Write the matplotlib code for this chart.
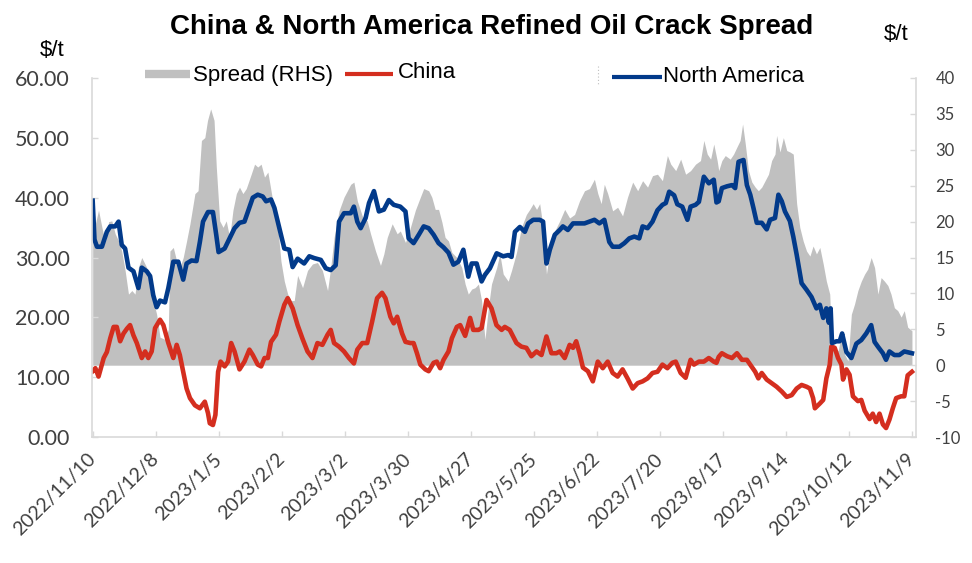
import matplotlib.pyplot as plt
import matplotlib.transforms as mtransforms
from matplotlib.lines import Line2D
import numpy as np
import pandas as pd

# data: (days since 2022/11/10, value)
start = pd.Timestamp('2022-11-10')

north_america = [
    (0, 39.5), (0.8, 33.0), (1.9, 31.8), (4.1, 31.8), (6.3, 34.3), (7.8, 35.2), (10.0, 35.2),
    (11.5, 36.0), (12.9, 32.1), (14.4, 31.5), (15.9, 28.3), (18.1, 27.7), (20.3, 24.9), (21.8, 28.3),
    (24.0, 27.7), (25.5, 26.9), (26.9, 23.7), (28.4, 21.7), (29.9, 22.8), (32.1, 22.5), (33.6, 24.9),
    (35.8, 29.3), (38.0, 29.3), (40.2, 26.3), (41.7, 29.0), (43.9, 29.5), (46.1, 29.4), (47.6, 32.6),
    (49.0, 36.0), (51.2, 37.6), (53.4, 37.6), (54.9, 33.7), (55.9, 30.9), (58.6, 31.5), (60.8, 33.2),
    (63.0, 34.9), (65.2, 35.8), (67.4, 36.0), (68.9, 37.6), (71.1, 40.0), (73.3, 40.5), (75.5, 40.2),
    (77.0, 39.4), (79.2, 39.7), (80.7, 38.3), (82.9, 34.9), (85.1, 31.5), (87.3, 31.3), (88.8, 28.4),
    (91.0, 29.8), (93.9, 29.0), (96.2, 30.2), (98.4, 29.9), (101.3, 29.6), (103.5, 28.2), (105.7, 27.9),
    (107.9, 28.7), (109.4, 36.0), (111.6, 37.4), (114.6, 37.4), (116.0, 38.5), (117.5, 36.0),
    (119.0, 34.9), (121.2, 36.6), (122.7, 39.1), (124.9, 41.1), (127.1, 37.7), (129.3, 38.0),
    (131.5, 39.6), (133.7, 38.8), (136.6, 38.5), (138.9, 37.7), (140.3, 33.2), (142.5, 32.4),
    (144.8, 33.8), (147.0, 35.2), (149.2, 34.9), (151.4, 33.8), (153.6, 32.4), (155.8, 31.7),
    (158.0, 30.8), (160.2, 28.8), (162.4, 29.3), (164.6, 31.3), (166.8, 26.8), (168.3, 29.0),
    (170.5, 29.0), (172.7, 26.0), (174.2, 27.1), (176.4, 28.2), (179.4, 30.7), (182.3, 30.2),
    (184.5, 30.4), (186.0, 30.1), (187.5, 34.3), (189.7, 35.1), (191.9, 34.3), (193.4, 35.7),
    (195.6, 36.3), (198.5, 36.3), (200.0, 36.0), (201.5, 29.0), (203.0, 31.3), (205.2, 33.8),
    (207.4, 34.6), (208.8, 35.2), (211.0, 34.6), (213.3, 35.7), (215.5, 35.7), (218.4, 35.7),
    (220.6, 36.0), (222.8, 36.3), (225.0, 35.7), (227.2, 36.3), (229.4, 32.6), (230.9, 31.8),
    (233.9, 31.8), (236.1, 32.4), (238.3, 33.2), (240.5, 33.5), (242.7, 33.2), (244.2, 35.2),
    (246.4, 34.9), (248.6, 36.0), (250.8, 37.9), (253.0, 38.8), (254.5, 39.1), (256.0, 41.0),
    (258.2, 40.4), (259.6, 38.9), (261.8, 38.5), (264.1, 36.3), (265.5, 38.5), (267.7, 38.8),
    (269.2, 39.3), (271.4, 43.5), (273.6, 42.4), (275.8, 43.0), (277.0, 39.2), (278.0, 39.4),
    (279.4, 41.6), (281.7, 41.9), (283.9, 42.1), (285.3, 41.6), (286.8, 46.0), (289.0, 46.3),
    (290.5, 42.1), (292.0, 40.5), (293.4, 38.3), (294.9, 35.8), (297.1, 35.8), (299.3, 34.7),
    (300.8, 36.3), (303.0, 36.6), (304.5, 40.5), (306.0, 39.4), (307.4, 37.7), (309.6, 36.1),
    (311.1, 33.5), (312.6, 30.5), (314.8, 25.7), (317.0, 24.6), (319.2, 23.4), (321.4, 21.5),
    (322.9, 22.1), (324.4, 19.9), (325.8, 21.5), (326.9, 19.1), (327.7, 21.5), (328.3, 15.7),
    (330.3, 16.0), (331.7, 16.0), (332.8, 17.3), (334.7, 14.2), (336.9, 13.2), (339.1, 15.6),
    (341.3, 16.2), (343.5, 17.3), (345.7, 18.7), (347.2, 15.9), (348.7, 15.1), (350.9, 14.0),
    (352.3, 12.9), (353.8, 14.3), (356.0, 13.7), (358.2, 13.7), (360.4, 14.3), (363.8, 14.0),
]

china = [
    (0, 11.0), (1.2, 11.5), (2.6, 10.1), (4.9, 13.2), (6.3, 14.2), (7.8, 16.5), (9.3, 18.4),
    (10.7, 18.4), (12.2, 16.0), (13.7, 17.3), (15.2, 18.1), (16.6, 18.7), (18.1, 17.0), (19.6, 15.7),
    (21.8, 13.2), (23.3, 14.3), (24.7, 13.2), (26.2, 14.3), (27.7, 18.2), (29.9, 19.6), (31.4, 18.7),
    (33.6, 15.7), (35.8, 13.2), (37.3, 15.4), (38.7, 13.7), (40.2, 10.9), (41.7, 8.1), (43.2, 6.5),
    (45.4, 5.3), (47.6, 4.8), (49.8, 5.9), (51.2, 4.0), (52.0, 2.3), (53.4, 2.0), (54.5, 3.7),
    (55.7, 10.9), (56.8, 12.6), (58.6, 11.8), (60.1, 12.6), (61.5, 15.7), (63.0, 14.3), (65.2, 11.3),
    (67.4, 12.6), (69.6, 14.6), (71.1, 13.7), (73.3, 12.1), (74.8, 11.8), (76.3, 13.2), (77.8, 13.2),
    (79.2, 15.9), (81.4, 17.1), (82.9, 19.3), (85.1, 22.1), (86.6, 23.2), (88.8, 21.5), (91.0, 18.7),
    (93.2, 16.4), (95.4, 14.3), (97.6, 13.2), (99.8, 15.7), (102.0, 15.4), (104.3, 17.1), (105.7, 17.9),
    (107.2, 15.7), (109.4, 15.1), (111.6, 14.3), (113.8, 13.2), (116.0, 12.3), (117.5, 14.6),
    (119.7, 15.7), (121.9, 15.7), (124.1, 19.3), (126.3, 23.2), (128.5, 24.1), (130.0, 23.2),
    (132.2, 20.1), (133.7, 19.0), (135.2, 20.1), (137.4, 17.3), (138.9, 15.9), (141.1, 15.7),
    (142.5, 15.7), (144.0, 14.0), (145.5, 12.1), (147.7, 11.3), (149.2, 11.0), (151.4, 12.4),
    (152.8, 12.6), (154.3, 11.5), (155.8, 12.9), (158.0, 14.3), (159.5, 16.5), (161.7, 18.4),
    (163.2, 18.7), (165.4, 16.9), (167.6, 19.9), (169.0, 17.9), (171.3, 17.9), (172.7, 18.2),
    (174.9, 22.9), (177.1, 21.5), (179.3, 18.7), (181.6, 17.9), (183.0, 18.4), (185.2, 17.9),
    (188.2, 15.7), (190.4, 15.1), (192.6, 14.9), (194.8, 13.5), (197.1, 14.3), (199.3, 13.7),
    (201.5, 16.8), (203.7, 14.0), (205.9, 14.0), (207.4, 14.3), (209.6, 13.2), (211.8, 15.4),
    (213.3, 14.9), (214.7, 16.0), (216.2, 14.0), (217.7, 11.6), (219.9, 11.0), (222.1, 9.3),
    (224.3, 12.6), (226.5, 11.5), (228.7, 12.6), (230.9, 10.7), (233.1, 10.1), (235.3, 11.3),
    (237.5, 9.8), (239.8, 8.1), (242.0, 9.0), (244.2, 9.3), (246.4, 9.8), (248.6, 10.7),
    (250.8, 10.9), (253.0, 12.1), (255.2, 11.5), (257.4, 12.4), (258.9, 12.6), (261.1, 10.7),
    (263.3, 9.9), (265.5, 12.9), (267.0, 12.1), (269.2, 12.6), (271.4, 12.6), (273.6, 13.2),
    (275.8, 12.6), (277.0, 12.4), (278.0, 13.4), (279.4, 14.0), (281.7, 13.5), (283.9, 13.2),
    (286.1, 14.0), (288.3, 12.9), (290.5, 12.9), (292.0, 12.1), (294.2, 10.9), (295.6, 9.8),
    (297.1, 10.7), (299.3, 9.6), (301.5, 9.0), (303.7, 8.4), (306.0, 7.6), (308.2, 6.7),
    (310.4, 7.0), (312.6, 8.1), (314.8, 8.7), (317.0, 8.4), (318.5, 8.1), (319.9, 6.5),
    (320.7, 4.8), (322.9, 5.6), (324.4, 6.2), (325.8, 9.8), (327.3, 12.1), (328.0, 15.1),
    (329.5, 14.9), (331.0, 13.2), (332.5, 12.1), (333.2, 9.6), (334.7, 11.3), (336.1, 10.4),
    (337.6, 6.8), (339.8, 6.0), (341.3, 6.2), (342.8, 4.4), (345.0, 3.0), (346.4, 3.9),
    (347.9, 2.5), (349.4, 3.9), (350.9, 2.1), (352.3, 1.5), (353.8, 2.9), (355.3, 4.8),
    (356.8, 6.5), (359.0, 6.8), (360.4, 6.8), (361.9, 10.3), (363.8, 10.9),
]

spread = [
    (0, 23.4), (1.2, 19.7), (2.6, 21.6), (4.1, 19.2), (5.6, 17.1), (7.1, 20.0), (8.5, 20.1),
    (10.0, 18.3), (11.5, 17.3), (12.9, 15.9), (14.4, 13.2), (15.9, 9.9), (17.4, 10.4), (18.8, 9.9),
    (20.3, 13.6), (21.8, 15.0), (24.0, 13.6), (25.5, 10.4), (26.9, 9.0), (28.4, 7.1), (29.9, 3.9),
    (32.1, 3.6), (33.6, 5.0), (34.3, 15.9), (35.8, 16.4), (37.3, 14.5), (38.7, 13.6), (40.2, 15.0),
    (41.7, 17.3), (43.2, 19.7), (45.4, 23.9), (46.8, 24.3), (48.3, 31.3), (49.8, 31.7), (51.0, 34.1),
    (52.4, 35.7), (53.9, 34.1), (54.9, 27.6), (56.4, 20.1), (57.9, 19.2), (59.3, 20.1), (60.8, 17.8),
    (62.3, 21.6), (63.8, 23.9), (65.2, 24.8), (66.7, 23.9), (68.2, 24.6), (70.4, 26.6), (71.9, 28.0),
    (73.3, 27.6), (74.8, 28.0), (76.3, 26.2), (77.8, 26.9), (79.2, 24.3), (80.7, 21.5), (82.2, 19.2),
    (83.6, 14.5), (85.1, 11.7), (86.6, 9.9), (88.1, 9.0), (89.5, 9.0), (91.0, 12.5), (93.2, 10.8),
    (95.4, 13.2), (97.6, 14.1), (99.8, 14.3), (102.0, 13.2), (104.3, 10.4), (105.7, 13.6),
    (107.2, 17.8), (109.4, 21.5), (111.6, 23.4), (113.1, 24.3), (114.6, 25.2), (116.0, 25.5),
    (117.5, 22.9), (119.7, 20.8), (121.9, 20.1), (123.4, 18.3), (125.6, 15.9), (127.8, 13.9),
    (129.3, 15.5), (130.8, 17.8), (133.0, 19.7), (135.2, 18.3), (136.6, 18.7), (138.9, 17.1),
    (141.1, 19.2), (143.3, 21.6), (145.5, 23.4), (147.0, 24.6), (149.2, 24.3), (150.6, 23.4),
    (152.1, 21.7), (153.6, 21.7), (155.1, 19.9), (156.5, 17.8), (158.0, 17.3), (159.5, 15.7),
    (161.7, 15.0), (163.9, 13.6), (165.4, 11.3), (166.8, 9.9), (168.3, 10.6), (169.8, 10.8),
    (171.3, 11.3), (172.7, 9.0), (174.2, 3.6), (175.7, 8.0), (177.1, 11.3), (179.4, 13.6),
    (180.8, 15.5), (182.3, 12.7), (184.5, 11.7), (186.0, 13.2), (188.2, 15.7), (190.4, 19.2),
    (192.6, 21.0), (194.1, 21.7), (195.6, 22.5), (197.1, 21.7), (198.5, 22.5), (200.0, 19.2),
    (201.5, 12.7), (203.0, 15.9), (205.2, 18.7), (207.4, 20.1), (209.6, 21.7), (211.8, 20.5),
    (214.0, 21.0), (216.2, 22.9), (218.4, 24.3), (220.6, 24.6), (222.8, 25.9), (224.3, 23.9),
    (225.8, 22.5), (227.2, 25.2), (228.7, 23.9), (230.9, 21.5), (233.1, 22.0), (235.3, 20.8),
    (237.5, 23.4), (239.8, 25.5), (242.0, 24.3), (244.2, 25.7), (246.4, 24.8), (248.6, 26.4),
    (250.8, 26.6), (253.0, 25.7), (255.2, 29.2), (256.7, 28.0), (258.9, 27.1), (261.1, 28.7),
    (263.3, 26.6), (265.5, 27.1), (267.7, 28.0), (269.9, 28.5), (271.4, 31.3), (272.9, 29.4),
    (274.4, 28.7), (275.8, 30.8), (277.3, 28.5), (278.0, 27.1), (279.4, 28.5), (280.9, 29.2),
    (283.1, 28.7), (284.6, 29.4), (286.1, 30.4), (287.5, 31.3), (288.6, 33.6), (289.8, 30.8),
    (291.2, 27.1), (292.7, 25.5), (294.2, 24.8), (295.6, 24.3), (297.1, 24.8), (298.6, 25.7),
    (300.1, 26.6), (301.5, 28.5), (303.0, 29.4), (303.7, 32.0), (305.2, 29.7), (306.7, 31.7),
    (308.2, 29.9), (309.6, 29.7), (311.1, 29.4), (312.6, 22.5), (314.0, 19.2), (315.5, 17.3),
    (317.0, 15.9), (318.5, 15.2), (319.9, 16.6), (321.4, 15.5), (322.9, 16.4), (324.4, 14.1),
    (325.8, 11.7), (327.3, 9.9), (328.0, 4.3), (329.5, 2.5), (331.0, 2.0), (332.5, 4.3),
    (333.9, 1.5), (335.4, 0.6), (336.9, 7.1), (338.3, 8.5), (339.8, 10.4), (341.3, 11.7),
    (342.8, 12.7), (344.2, 13.4), (345.7, 15.0), (347.2, 13.6), (348.7, 9.9), (350.1, 12.2),
    (351.6, 11.7), (353.1, 11.1), (354.5, 9.9), (356.0, 8.0), (357.5, 7.6), (359.0, 6.7),
    (360.4, 7.6), (361.9, 5.3), (363.8, 4.8),
]

tick_labels = ['2022/11/10', '2022/12/8', '2023/1/5', '2023/2/2', '2023/3/2', '2023/3/30',
               '2023/4/27', '2023/5/25', '2023/6/22', '2023/7/20', '2023/8/17', '2023/9/14',
               '2023/10/12', '2023/11/9']
left_ticks = [0, 10, 20, 30, 40, 50, 60]
right_ticks = [-10, -5, 0, 5, 10, 15, 20, 25, 30, 35, 40]


def to_xy(points):
    days, vals = zip(*points)
    return start + pd.to_timedelta(np.array(days), unit='D'), np.array(vals)


GRID = '#d9d9d9'
fig = plt.figure(figsize=(9.72, 5.63), dpi=100)
ax = fig.add_axes([92 / 972, 1 - 437 / 563, 824 / 972, 359 / 563])
ax2 = ax.twinx()
ax.set_zorder(ax2.get_zorder() + 1)
ax.patch.set_visible(False)

x, y = to_xy(spread)
ax2.fill_between(x, 0, y, color='#c0c0c0', lw=0)
x, y = to_xy(china)
ax.plot(x, y, color='#d42e1f', lw=3.3, solid_joinstyle='round')
x, y = to_xy(north_america)
ax.plot(x, y, color='#023a8a', lw=3.3, solid_joinstyle='round')

ax.set_xlim(start - pd.Timedelta(days=0.3), start + pd.Timedelta(days=365.6))
ax.set_ylim(0, 60)
ax2.set_ylim(-10, 40)

tick_dates = pd.to_datetime(tick_labels, format='%Y/%m/%d')
ax.set_xticks(tick_dates)
ax.set_xticklabels(tick_labels, rotation=45, ha='right', va='center', rotation_mode='anchor',
                   fontsize=14, family='Lato', color='#404040')
shift = mtransforms.ScaledTranslation(6 / 100, 0, fig.dpi_scale_trans)
for lab in ax.get_xticklabels():
    lab.set_transform(lab.get_transform() + shift)

ax.set_yticks(left_ticks)
ax.set_yticklabels([f'{v:.2f}' for v in left_ticks], fontsize=15.5, family='Lato', color='#404040')
ax2.set_yticks(right_ticks)
ax2.set_yticklabels([str(v) for v in right_ticks], fontsize=12, family='Lato', color='#404040')

ax.tick_params(axis='x', direction='in', length=4, color=GRID, width=1, pad=14)
ax.tick_params(axis='y', direction='in', length=4, color=GRID, width=1, pad=16)
ax2.tick_params(axis='y', direction='in', length=4, color=GRID, width=1, pad=14)

for a in (ax, ax2):
    a.spines['top'].set_visible(False)
    for s in ('left', 'right', 'bottom'):
        a.spines[s].set_color(GRID)
        a.spines[s].set_linewidth(1.2)
ax.spines['right'].set_visible(False)
ax2.spines['left'].set_visible(False)
ax2.spines['bottom'].set_visible(False)

# title and units
fig.text(492 / 972, 1 - 27 / 563, 'China & North America Refined Oil Crack Spread',
         fontsize=20, weight='bold', family='Liberation Sans', ha='center', va='center')
fig.text(52 / 972, 1 - 50 / 563, '$/t', fontsize=16, family='Liberation Sans',
         ha='center', va='center')
fig.text(896 / 972, 1 - 35 / 563, '$/t', fontsize=16, family='Liberation Sans',
         ha='center', va='center')

# legend drawn by hand to keep the original spacing
def fx(px):
    return px / 972


def fy(py):
    return 1 - py / 563


fig.add_artist(Line2D([fx(145), fx(190)], [fy(74), fy(74)], color='#c0c0c0', lw=6,
                      solid_capstyle='butt'))
fig.text(fx(193), fy(76), 'Spread (RHS)', fontsize=16, family='Liberation Sans', va='center')
fig.add_artist(Line2D([fx(345), fx(393)], [fy(74), fy(74)], color='#d42e1f', lw=3,
                      solid_capstyle='butt'))
fig.text(fx(398), fy(72), 'China', fontsize=16, family='Liberation Sans', va='center')
fig.add_artist(Line2D([fx(598), fx(598)], [fy(66), fy(84)], color='#bfbfbf', lw=0.8,
                      ls=(0, (1, 2))))
fig.add_artist(Line2D([fx(612), fx(662)], [fy(77), fy(77)], color='#023a8a', lw=3,
                      solid_capstyle='butt'))
fig.text(fx(663), fy(76), 'North America', fontsize=16, family='Liberation Sans', va='center')

fig.savefig('out.png', dpi=100, facecolor='white')
